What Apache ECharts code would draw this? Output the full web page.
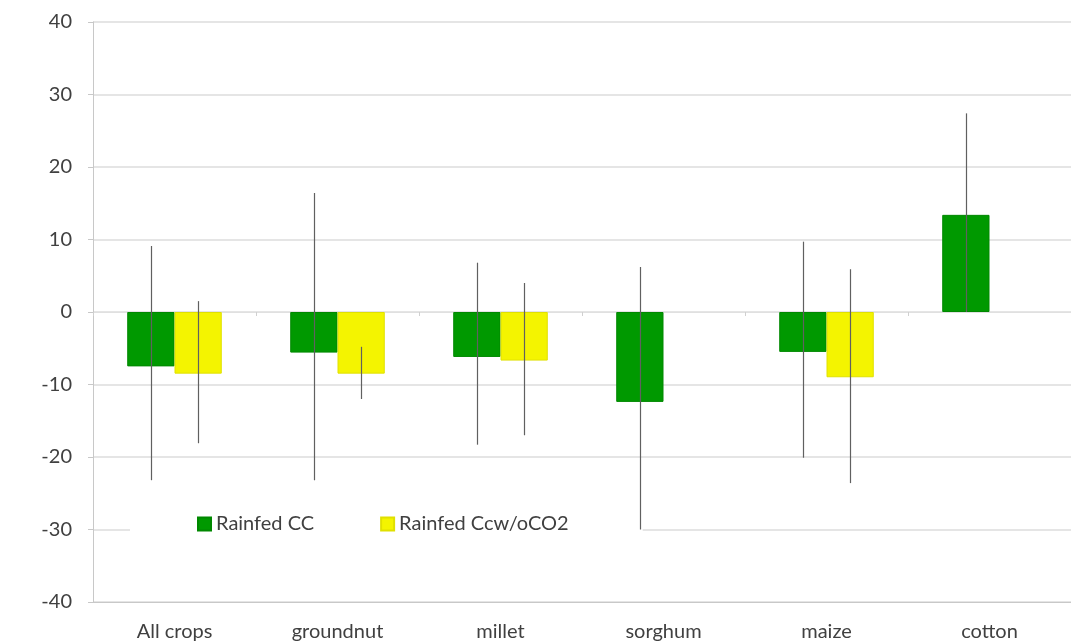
<!DOCTYPE html>
<html>
<head>
<meta charset="utf-8">
<script src="https://cdn.jsdelivr.net/npm/echarts@6/dist/echarts.min.js"></script>
<style>
  html, body { margin: 0; padding: 0; background: #ffffff; }
  #chart { width: 1071px; height: 643px; }
</style>
</head>
<body>
<div id="chart"></div>
<script>
// Crop categories
const categories = ['All crops', 'groundnut', 'millet', 'sorghum', 'maize', 'cotton'];

// Mean yield change (%) per scenario
const rainfedCC = [-7.5, -5.6, -6.2, -12.4, -5.5, 13.4];
const rainfedCcw = [-8.5, -8.5, -6.7, null, -9.0, null];

// Range (low / high) shown as whiskers
const rainfedCCLow = [-23.2, -23.2, -18.3, -30.0, -20.1, 0];
const rainfedCCHigh = [9.1, 16.4, 6.8, 6.2, 9.7, 27.4];
const rainfedCcwLow = [-18.1, -12.0, -17.0, null, -23.6, null];
const rainfedCcwHigh = [1.5, -4.8, 4.0, null, 5.9, null];

// Y axis ticks
const yMin = -40, yMax = 40, yStep = 10;

const BAR_CATEGORY_GAP = 0.42;
const textColor = '#404040';
const fontFamily = 'Lato, "Open Sans", sans-serif';

// Whisker renderer: a thin vertical line through the centre of the given bar slot
function whisker(lows, highs, slot) {
  return function (params, api) {
    const i = api.value(0);
    const lo = lows[i], hi = highs[i];
    if (lo == null || hi == null) return null;
    const catW = api.size([1, 0])[0];
    const barW = catW * (1 - BAR_CATEGORY_GAP) / 2;
    const pLo = api.coord([i, lo]);
    const pHi = api.coord([i, hi]);
    const x = Math.round(pLo[0] + (slot === 0 ? -barW / 2 : barW / 2)) + 0.5;
    return {
      type: 'line',
      shape: { x1: x, y1: pLo[1], x2: x, y2: pHi[1] },
      style: { stroke: '#606060', lineWidth: 1.2 }
    };
  };
}

const chart = echarts.init(document.getElementById('chart'), null, { renderer: 'canvas' });

chart.setOption({
  backgroundColor: '#ffffff',
  animation: false,
  grid: { left: 93, right: 0, top: 22, bottom: 41, containLabel: false },
  legend: {
    left: 130,
    top: 502,
    z: 4,
    data: ['Rainfed CC', 'Rainfed Ccw/oCO2'],
    backgroundColor: '#ffffff',
    padding: [12, 74, 14, 67],
    itemWidth: 13,
    itemHeight: 13,
    itemGap: 66,
    icon: 'rect',
    textStyle: { color: textColor, fontSize: 20, fontFamily: fontFamily }
  },
  xAxis: [
    {
      type: 'category',
      data: categories,
      position: 'bottom',
      axisLine: { onZero: false, lineStyle: { color: '#c8c8c8', width: 1 } },
      axisTick: { show: false },
      axisLabel: { color: textColor, fontSize: 20, fontFamily: fontFamily, margin: 20 },
      splitLine: { show: false }
    },
    {
      // boundary ticks along the zero line
      type: 'category',
      data: categories,
      position: 'bottom',
      axisLine: { onZero: true, lineStyle: { color: '#e0e0e0', width: 1 } },
      axisTick: { show: true, length: 4, lineStyle: { color: '#d0d0d0' } },
      axisLabel: { show: false },
      splitLine: { show: false }
    }
  ],
  yAxis: {
    type: 'value',
    min: yMin,
    max: yMax,
    interval: yStep,
    axisLine: { show: true, lineStyle: { color: '#c8c8c8', width: 1 } },
    axisTick: { show: true, length: 5, lineStyle: { color: '#c8c8c8' } },
    axisLabel: { color: textColor, fontSize: 20, fontFamily: fontFamily, margin: 21 },
    splitLine: { show: true, lineStyle: { color: '#dcdcdc', width: 1.5 } }
  },
  series: [
    {
      name: 'Rainfed CC',
      type: 'bar',
      data: rainfedCC,
      barGap: '0%',
      barCategoryGap: (BAR_CATEGORY_GAP * 100) + '%',
      itemStyle: { color: '#009900', borderColor: '#008800', borderWidth: 1 },
      z: 2
    },
    {
      name: 'Rainfed Ccw/oCO2',
      type: 'bar',
      data: rainfedCcw,
      itemStyle: { color: '#f4f400', borderColor: '#e0e000', borderWidth: 1 },
      z: 2
    },
    {
      name: 'CC range',
      type: 'custom',
      renderItem: whisker(rainfedCCLow, rainfedCCHigh, 0),
      data: categories.map((c, i) => [i]),
      encode: { x: 0 },
      z: 6,
      silent: true
    },
    {
      name: 'Ccw range',
      type: 'custom',
      renderItem: whisker(rainfedCcwLow, rainfedCcwHigh, 1),
      data: categories.map((c, i) => [i]),
      encode: { x: 0 },
      z: 6,
      silent: true
    }
  ]
});
</script>
</body>
</html>
